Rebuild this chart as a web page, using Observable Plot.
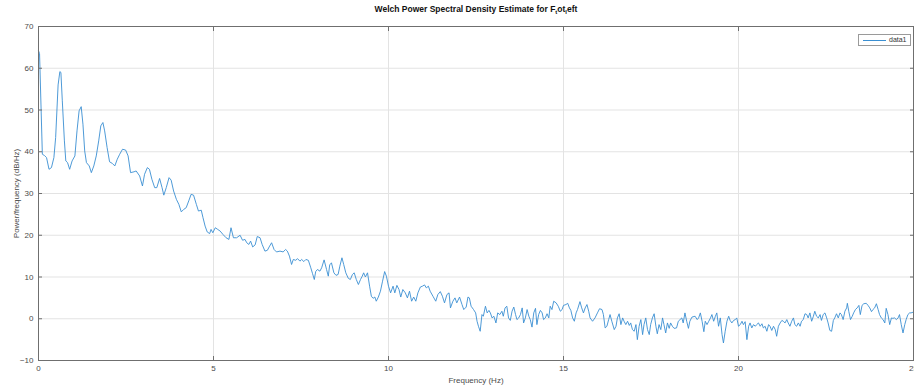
<!DOCTYPE html>
<html>
<head>
<meta charset="utf-8">
<script src="https://cdn.jsdelivr.net/npm/d3@7"></script>
<script src="https://cdn.jsdelivr.net/npm/@observablehq/plot@0.6"></script>
<style>
  html, body { margin: 0; padding: 0; background: #fff; overflow: hidden; }
  #fig { position: relative; width: 914px; height: 385px; font-family: "Liberation Sans", Arial, Helvetica, sans-serif; }
  #title { height: 18px; line-height: 18px; text-align: center; font-weight: bold; font-size: 8.5px; color: #111; padding-left: 38px; white-space: nowrap; }
  #title sub { font-size: 6px; vertical-align: -2px; line-height: 0; }
  #legend { position: absolute; left: 858px; top: 34px; width: 53px; height: 12px; border: 1px solid #9a9a9a; background: #fff; box-sizing: border-box; }
  #legend .swatch { position: absolute; left: 4px; top: 5px; width: 23px; height: 0; border-top: 1px solid #3a8fd2; }
  #legend .name { position: absolute; left: 30px; top: 0; line-height: 10px; font-size: 7px; color: #333; }
  svg { display: block; }
</style>
</head>
<body>
<div id="fig">
  <div id="title">Welch Power Spectral Density Estimate for F<sub>t</sub>ot<sub>l</sub>eft</div>
  <div id="chart"></div>
  <div id="legend"><div class="swatch"></div><div class="name">data1</div></div>
</div>
<script>
// Welch PSD estimate: frequency (Hz) and power/frequency (dB/Hz)
const freqHz = [
  0, 0.03, 0.11, 0.17, 0.23, 0.30, 0.37, 0.44, 0.49, 0.56, 0.61, 0.64, 0.68, 0.74, 0.78, 0.83, 0.89, 0.96,
  1.04, 1.10, 1.16, 1.22, 1.27, 1.32, 1.37, 1.45, 1.51, 1.58, 1.65, 1.72, 1.78, 1.84, 1.89, 1.96,
  2.03, 2.11, 2.18, 2.25, 2.32, 2.40, 2.49, 2.56, 2.63, 2.73, 2.79, 2.89, 2.97,
  3.03, 3.11, 3.17, 3.24, 3.32, 3.38, 3.46, 3.53, 3.58, 3.65, 3.73, 3.79, 3.86, 3.94,
  4.01, 4.08, 4.15, 4.22, 4.30, 4.36, 4.43, 4.51, 4.57, 4.65, 4.70, 4.76, 4.82, 4.89, 4.93, 4.98,
  5.05, 5.12, 5.19, 5.27, 5.36, 5.44, 5.50, 5.57, 5.66, 5.76, 5.83, 5.90, 5.95,
  6.01, 6.06, 6.12, 6.19, 6.25, 6.33, 6.39, 6.47, 6.54, 6.59, 6.66, 6.73, 6.80, 6.90, 6.99,
  7.06, 7.11, 7.17, 7.23, 7.28, 7.35, 7.40, 7.47, 7.52, 7.58, 7.64, 7.71, 7.78, 7.83, 7.88, 7.92, 7.97,
  8.04, 8.09, 8.16, 8.23, 8.28, 8.32, 8.37, 8.44, 8.50, 8.56, 8.61, 8.67, 8.72, 8.78, 8.85, 8.91, 8.97,
  9.02, 9.08, 9.14, 9.20, 9.25, 9.29, 9.34, 9.40, 9.46, 9.51, 9.56, 9.61, 9.65, 9.71, 9.77, 9.83, 9.89, 9.94,
  10.00, 10.06, 10.13, 10.18, 10.24, 10.30, 10.35, 10.41, 10.48, 10.54, 10.60, 10.66, 10.72, 10.78, 10.84, 10.91, 10.97,
  11.03, 11.08, 11.14, 11.19, 11.27, 11.35, 11.41, 11.48, 11.54, 11.60, 11.67, 11.73, 11.77, 11.84, 11.90, 11.95,
  12.03, 12.10, 12.15, 12.22, 12.27, 12.31, 12.36, 12.43, 12.49, 12.53, 12.57, 12.62, 12.67, 12.71, 12.77, 12.82, 12.87, 12.91, 12.96,
  13.01, 13.07, 13.12, 13.18, 13.24, 13.28, 13.33, 13.38, 13.43, 13.48, 13.53, 13.58, 13.63, 13.67, 13.72, 13.77, 13.82, 13.86, 13.91, 13.96,
  14.01, 14.05, 14.10, 14.15, 14.20, 14.24, 14.29, 14.34, 14.39, 14.43, 14.48, 14.53, 14.58, 14.62, 14.67, 14.72, 14.79, 14.85, 14.91, 14.96,
  15.00, 15.07, 15.12, 15.17, 15.21, 15.26, 15.31, 15.36, 15.40, 15.47, 15.52, 15.57, 15.62, 15.67, 15.72, 15.76, 15.83, 15.90, 15.97,
  16.03, 16.10, 16.14, 16.19, 16.24, 16.29, 16.33, 16.38, 16.45, 16.50, 16.54, 16.59, 16.64, 16.69, 16.73, 16.78, 16.83, 16.88, 16.92, 16.97,
  17.02, 17.07, 17.11, 17.16, 17.21, 17.26, 17.30, 17.35, 17.40, 17.45, 17.49, 17.54, 17.59, 17.64, 17.68, 17.73, 17.78, 17.83, 17.87, 17.92, 17.97,
  18.02, 18.06, 18.11, 18.16, 18.23, 18.28, 18.33, 18.38, 18.42, 18.47, 18.52, 18.57, 18.61, 18.67, 18.76, 18.82, 18.86, 18.91, 18.96,
  19.01, 19.05, 19.10, 19.15, 19.20, 19.24, 19.29, 19.34, 19.38, 19.43, 19.48, 19.53, 19.57, 19.62, 19.67, 19.72, 19.76, 19.81, 19.86, 19.91, 19.95,
  20.00, 20.05, 20.10, 20.14, 20.19, 20.24, 20.29, 20.33, 20.38, 20.43, 20.48, 20.52, 20.57, 20.62, 20.67, 20.71, 20.76, 20.81, 20.86, 20.90, 20.95,
  21.00, 21.05, 21.09, 21.14, 21.19, 21.24, 21.28, 21.33, 21.38, 21.42, 21.47, 21.52, 21.57, 21.61, 21.66, 21.71, 21.76, 21.80, 21.85, 21.90, 21.95, 21.99,
  22.04, 22.09, 22.14, 22.18, 22.23, 22.28, 22.33, 22.37, 22.42, 22.47, 22.52, 22.56, 22.61, 22.66, 22.71, 22.75, 22.80, 22.85, 22.90, 22.94, 22.99,
  23.04, 23.09, 23.11, 23.15, 23.20, 23.25, 23.29, 23.34, 23.39, 23.44, 23.48, 23.53, 23.58, 23.65, 23.70, 23.75, 23.80, 23.84, 23.89, 23.94, 23.99,
  24.03, 24.08, 24.13, 24.18, 24.22, 24.27, 24.32, 24.37, 24.41, 24.46, 24.51, 24.56, 24.60, 24.65, 24.70, 24.75, 24.79, 24.84, 24.89, 24.93, 25.00
];
const psdDb = [
  64.2, 63.5, 39.4, 39.1, 38.6, 35.8, 36.2, 38.6, 43.4, 56.0, 59.2, 59.0, 52.2, 42.6, 37.8, 37.4, 35.8, 37.8,
  39.0, 45.0, 49.8, 50.8, 46.6, 40.2, 37.4, 36.6, 35.0, 36.6, 39.0, 42.6, 46.2, 47.0, 45.0, 41.0,
  37.6, 37.2, 36.6, 38.2, 39.4, 40.6, 40.4, 39.0, 35.0, 35.2, 35.4, 34.2, 31.8,
  34.6, 36.2, 35.8, 33.4, 31.4, 31.4, 33.6, 31.4, 29.6, 31.4, 33.8, 33.2, 30.6, 28.6,
  27.4, 25.6, 26.2, 26.6, 28.4, 29.8, 29.6, 27.4, 25.8, 26.0, 24.2, 22.2, 20.8, 20.4, 21.4, 20.6,
  21.8, 21.4, 21.0, 20.2, 19.4, 19.0, 21.8, 19.4, 19.4, 20.0, 18.8, 19.0, 18.2,
  17.8, 18.6, 17.2, 17.7, 19.7, 19.4, 17.8, 16.2, 16.4, 17.2, 18.2, 16.6, 16.0, 16.2, 16.0,
  16.6, 16.2, 15.0, 13.0, 14.2, 14.0, 14.4, 13.8, 14.2, 13.7, 14.2, 14.0, 12.2, 10.8, 9.4, 11.3, 11.8,
  11.4, 12.2, 14.1, 11.8, 10.2, 12.9, 13.4, 11.0, 10.4, 10.6, 12.6, 14.6, 13.0, 11.0, 9.7, 9.4, 10.6,
  11.0, 9.4, 8.2, 9.4, 10.2, 11.0, 10.0, 11.0, 7.8, 5.4, 4.9, 5.2, 4.2, 5.2, 6.6, 9.0, 11.3, 10.2,
  7.8, 6.2, 7.8, 6.2, 8.0, 7.0, 5.2, 7.0, 6.2, 5.0, 6.6, 4.2, 5.2, 4.2, 6.2, 7.6, 7.8,
  8.1, 7.4, 7.8, 6.6, 5.4, 4.2, 5.8, 6.5, 5.4, 3.8, 5.8, 6.2, 2.6, 4.2, 5.0, 3.8,
  5.2, 3.4, 2.2, 2.8, 5.2, 5.0, 3.0, 2.2, 1.4, -0.6, -1.8, -3.0, 1.0, 0.6, 3.0, 1.4, 2.0, 1.4, 0.2,
  0.6, -1.0, 1.4, 1.0, 1.8, 0.6, 2.6, 3.0, 0.2, -0.4, 1.8, 2.8, 1.0, -0.2, 0.2, 1.0, 2.6, -1.0, 0.2, 2.2,
  0.6, -0.2, -2.0, 1.4, 2.5, -1.4, 1.0, 2.0, 1.4, -0.2, 0.2, 1.2, 0.2, 3.0, 2.2, 4.2, 3.8, 3.0, 1.8, 2.2,
  3.2, 3.4, 3.7, 2.6, 2.0, 0.2, -0.6, 1.4, 2.2, 4.1, 2.6, 1.4, 2.6, 3.4, 1.8, 0.2, -0.6, 0.2, 1.4,
  2.4, 2.2, 1.0, -2.2, -1.8, -0.2, 1.0, -0.6, -2.6, -1.8, 0.2, 1.2, -1.4, 0.2, -0.6, -1.4, -0.6, -1.6, -1.0, -2.6,
  -3.0, -1.4, -5.0, -1.8, -0.2, -3.8, -1.4, 0.2, -2.6, -3.8, -1.4, 0.2, 1.2, -1.8, -3.6, -1.4, -2.6, 0.2, -1.4, -3.4, -1.0,
  -2.3, -1.0, -1.8, -2.3, -2.2, -0.6, -0.2, 0.2, -1.0, 1.4, -0.6, -2.3, -0.6, 0.4, 0.6, -0.2, 0.2, 1.4, -0.6,
  -3.1, -0.6, -1.4, -0.6, 0.2, 1.0, -0.6, 0.6, 1.4, -1.8, 0.2, -3.8, -5.8, -3.0, -0.6, 0.6, -0.4, -1.0, -0.4, -0.2, 0.2,
  -1.8, -1.4, -0.6, -1.4, -0.7, -5.0, -1.8, -1.0, -2.2, -1.4, -1.8, -1.4, -1.0, -1.8, -1.2, -2.2, -1.8, -3.0, -1.4, -1.8, -2.8,
  -1.8, -2.6, -4.2, -1.8, -1.0, -0.4, -0.6, -1.0, -0.2, -1.0, -1.8, -0.6, 0.2, -1.4, -1.8, -1.0, -1.8, -0.6, -0.2, 1.2, 1.0, 0.2,
  1.4, -0.6, 0.6, 1.8, 0.6, 0.2, 1.0, -0.4, 1.0, 1.4, 0.2, -1.0, -2.8, -3.0, -0.4, 0.2, 1.2, 0.2, 1.4, 1.0, -0.2,
  1.8, 2.6, 3.7, 1.8, -0.2, 0.6, 1.4, 2.2, 2.6, 3.2, 1.0, 3.2, 3.6, 3.7, 3.2, 2.6, 1.7, 2.2, 2.6, 3.6, 2.2,
  1.0, 0.2, -0.2, -1.0, 2.5, 1.0, -1.4, 0.2, 0.1, 0.2, -0.2, 0.2, 1.0, -1.4, -3.4, -1.4, -0.2, 1.0, 1.4, 1.4, 1.6
];
const xTicks = [0, 5, 10, 15, 20, 25];
const yTicks = [-10, 0, 10, 20, 30, 40, 50, 60, 70];

const spectrum = freqHz.map((f, i) => ({f, p: psdDb[i]}));

const gridColor = "#e3e3e3";
const boxColor = "#6f6f6f";

const chart = Plot.plot({
  width: 914,
  height: 367,
  marginTop: 8,
  marginBottom: 25,
  marginLeft: 38,
  marginRight: 1,
  style: {fontFamily: "'Liberation Sans', Arial, Helvetica, sans-serif", fontSize: "8px", color: "#4a4a4a", background: "#fff"},
  x: {domain: [0, 25]},
  y: {domain: [-10, 70]},
  marks: [
    Plot.gridX(xTicks, {stroke: gridColor, strokeOpacity: 1}),
    Plot.gridY(yTicks, {stroke: gridColor, strokeOpacity: 1}),
    Plot.line(spectrum, {x: "f", y: "p", stroke: "#3a8fd2", strokeWidth: 0.9, curve: "linear"}),
    Plot.frame({stroke: boxColor}),
    Plot.axisX(xTicks, {anchor: "bottom", tickSize: 0, tickPadding: 5, label: "Frequency (Hz)", labelAnchor: "center", labelOffset: 22, labelArrow: "none", fill: "#4a4a4a"}),
    Plot.axisX(xTicks, {anchor: "bottom", text: null, tickSize: -4, label: null, stroke: boxColor}),
    Plot.axisX(xTicks, {anchor: "top", text: null, tickSize: -4, label: null, stroke: boxColor}),
    Plot.axisY(yTicks, {anchor: "left", tickSize: 0, tickPadding: 5, label: "Power/frequency (dB/Hz)", labelAnchor: "center", labelOffset: 25, labelArrow: "none", fill: "#4a4a4a"}),
    Plot.axisY(yTicks, {anchor: "left", text: null, tickSize: -4, label: null, stroke: boxColor}),
    Plot.axisY(yTicks, {anchor: "right", text: null, tickSize: -4, label: null, stroke: boxColor})
  ]
});
document.getElementById("chart").appendChild(chart);
</script>
</body>
</html>
